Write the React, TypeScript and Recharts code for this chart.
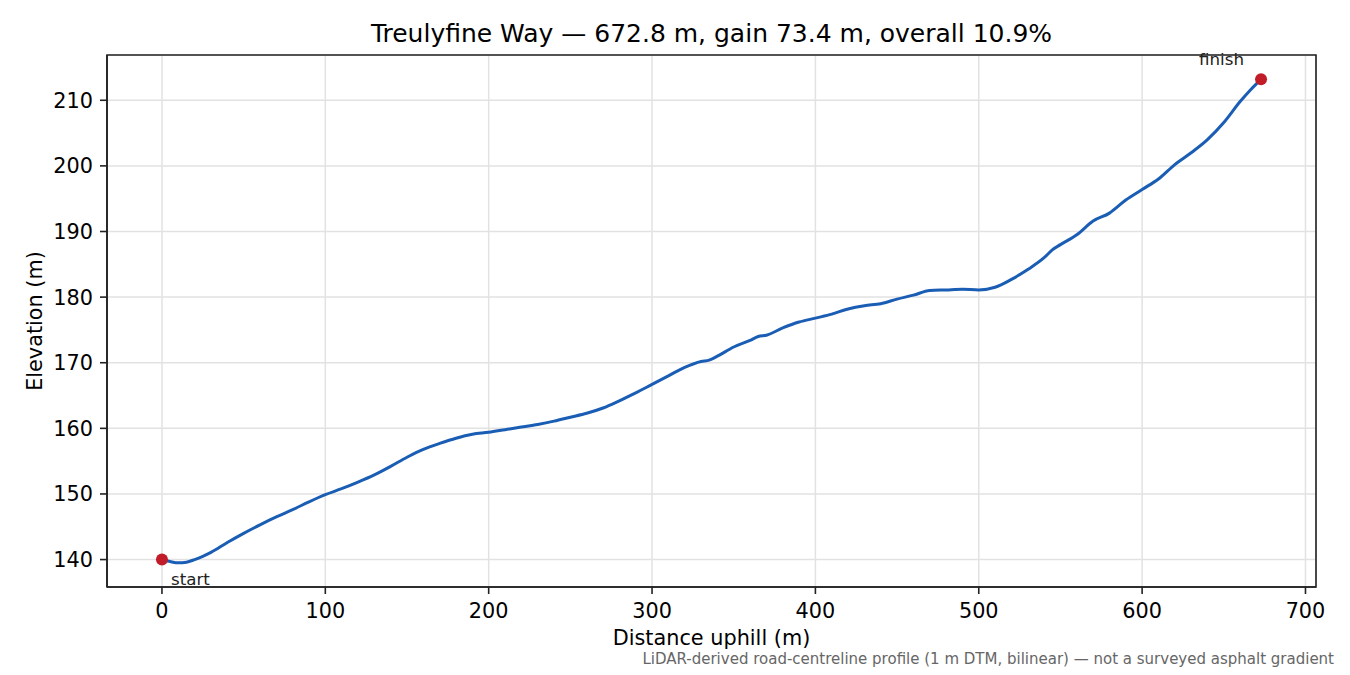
import React from "react";
import { LineChart, Line, XAxis, YAxis, CartesianGrid, ReferenceDot, ReferenceArea } from "recharts";

const distances = [
  0, 5, 10, 15, 20, 25, 30, 40, 50, 60, 70, 80, 90, 100, 110, 120, 130, 140, 150, 160,
  170, 180, 190, 200, 210, 220, 230, 240, 250, 260, 270, 280, 290, 300, 310, 320, 330, 335,
  340, 350, 360, 365, 370, 380, 390, 400, 410, 420, 430, 440, 450, 460, 470, 480, 490, 500,
  510, 520, 530, 540, 545, 550, 560, 570, 580, 590, 600, 610, 620, 630, 640, 650, 660, 666, 672.8,
];
const elevations = [
  140.0, 139.7, 139.5, 139.6, 140.0, 140.5, 141.1, 142.6, 144.0, 145.3, 146.5, 147.6, 148.8, 149.9, 150.8, 151.8, 152.9, 154.2, 155.6, 156.8,
  157.7, 158.5, 159.1, 159.4, 159.8, 160.2, 160.6, 161.1, 161.7, 162.3, 163.1, 164.2, 165.4, 166.7, 168.0, 169.3, 170.2, 170.4,
  171.0, 172.4, 173.4, 174.0, 174.2, 175.3, 176.2, 176.8, 177.4, 178.2, 178.7, 179.0, 179.7, 180.3, 181.0, 181.1, 181.2, 181.1,
  181.5, 182.7, 184.2, 186.0, 187.2, 188.0, 189.5, 191.6, 192.8, 194.8, 196.4, 198.0, 200.2, 202.0, 204.0, 206.6, 209.8, 211.5, 213.2,
];
const xTicks = [0, 100, 200, 300, 400, 500, 600, 700];
const yTicks = [140, 150, 160, 170, 180, 190, 200, 210];
const startPoint = { d: 0, e: 140.0, label: "start" };
const finishPoint = { d: 672.8, e: 213.2, label: "finish" };

const titleText = "Treulyfine Way \u2014 672.8 m, gain 73.4 m, overall 10.9%";
const xLabel = "Distance uphill (m)";
const yLabel = "Elevation (m)";
const footnote = "LiDAR-derived road-centreline profile (1 m DTM, bilinear) \u2014 not a surveyed asphalt gradient";

const data = distances.map((d, i) => ({ d, e: elevations[i] }));

const FONT = "'DejaVu Sans', sans-serif";
const LINE = "#1a5db4";
const DOT = "#c11d29";
const GRID = "#e2e2e2";
const AXIS = "#222222";

const X_DOMAIN: [number, number] = [-33.64, 706.44];
const Y_DOMAIN: [number, number] = [135.82, 216.9];

function StartShape(p: any) {
  return (
    <g>
      <circle cx={p.cx} cy={p.cy} r={6} fill={DOT} />
      <text x={p.cx + 9} y={p.cy + 25} fontSize={16.7} fontFamily={FONT} fill="#222">
        {startPoint.label}
      </text>
    </g>
  );
}

function FinishShape(p: any) {
  return (
    <g>
      <circle cx={p.cx} cy={p.cy} r={6} fill={DOT} />
      <text x={p.cx - 62} y={p.cy - 14} fontSize={16.7} fontFamily={FONT} fill="#222">
        {finishPoint.label}
      </text>
    </g>
  );
}

export default function App() {
  const tickStyle = { fill: "#000", fontSize: 20.8, fontFamily: FONT };
  return (
    <div style={{ position: "absolute", left: 0, top: 0, width: 1350, height: 675, background: "#fff" }}>
      <LineChart
        width={1350}
        height={675}
        data={data}
        margin={{ top: 55, right: 34, bottom: 58, left: 0 }}
      >
        <CartesianGrid stroke={GRID} strokeWidth={1.5} />
        <XAxis
          dataKey="d"
          type="number"
          domain={X_DOMAIN}
          allowDataOverflow
          ticks={xTicks}
          tickSize={7}
          tickMargin={9}
          height={30}
          stroke={AXIS}
          strokeWidth={1.6}
          tick={tickStyle}
          interval={0}
        />
        <YAxis
          type="number"
          domain={Y_DOMAIN}
          allowDataOverflow
          ticks={yTicks}
          tickSize={7}
          tickMargin={7}
          width={107}
          stroke={AXIS}
          strokeWidth={1.6}
          tick={tickStyle}
          interval={0}
        />
        <ReferenceArea
          x1={X_DOMAIN[0]}
          x2={X_DOMAIN[1]}
          y1={Y_DOMAIN[0]}
          y2={Y_DOMAIN[1]}
          fill="none"
          fillOpacity={0}
          stroke={AXIS}
          strokeWidth={1.6}
          ifOverflow="visible"
        />
        <Line
          type="monotone"
          dataKey="e"
          stroke={LINE}
          strokeWidth={3}
          dot={false}
          activeDot={false}
          isAnimationActive={false}
        />
        <ReferenceDot x={startPoint.d} y={startPoint.e} r={6} shape={StartShape} />
        <ReferenceDot x={finishPoint.d} y={finishPoint.e} r={6} shape={FinishShape} />
      </LineChart>
      <svg
        width={1350}
        height={675}
        style={{ position: "absolute", left: 0, top: 0, pointerEvents: "none" }}
      >
        <text x={711.5} y={42} textAnchor="middle" fontSize={25} fontFamily={FONT} fill="#000">
          {titleText}
        </text>
        <text x={711.5} y={645} textAnchor="middle" fontSize={20.8} fontFamily={FONT} fill="#000">
          {xLabel}
        </text>
        <text
          x={0}
          y={0}
          transform="translate(42,321) rotate(-90)"
          textAnchor="middle"
          fontSize={20.8}
          fontFamily={FONT}
          fill="#000"
        >
          {yLabel}
        </text>
        <text x={1334} y={664} textAnchor="end" fontSize={15} fontFamily={FONT} fill="#666">
          {footnote}
        </text>
      </svg>
    </div>
  );
}
